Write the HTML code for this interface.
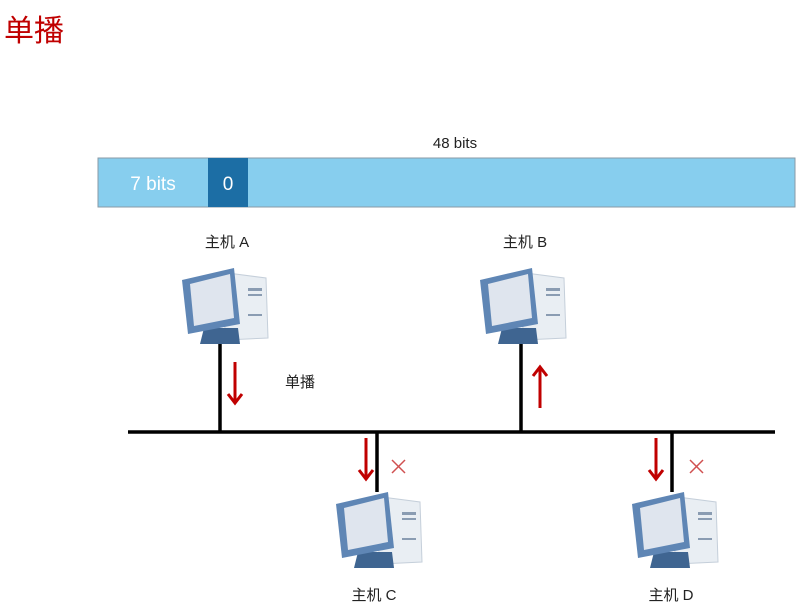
<!DOCTYPE html>
<html><head><meta charset="utf-8"><style>
body{margin:0;background:#fff;width:800px;height:604px;overflow:hidden}
text{font-family:"Liberation Sans","Noto Sans CJK SC",sans-serif}
</style></head><body>
<svg width="800" height="604" xmlns="http://www.w3.org/2000/svg">
<defs>
<g id="pc">
  <polygon points="42,8 88,14 90,74 48,76" fill="#e9eef3" stroke="#c5cfda"/>
  <rect x="70" y="24" width="14" height="3" fill="#8a9cb2"/>
  <rect x="70" y="30" width="14" height="2" fill="#8a9cb2"/>
  <rect x="70" y="50" width="14" height="2" fill="#8a9cb2"/>
  <polygon points="26,64 60,64 62,80 22,80" fill="#3f6591"/>
  <polygon points="4,16 56,4 62,60 10,70" fill="#5f86b5"/>
  <polygon points="12,20 52,10 56,54 16,62" fill="#dfe5ee"/>
</g>
</defs>
<text x="4" y="41" font-size="30" fill="#c00000">单播</text>
<text x="455" y="148" font-size="15" fill="#222" text-anchor="middle">48 bits</text>
<rect x="98" y="158" width="697" height="49" fill="#87ceee" stroke="#8a9aa6"/>
<rect x="208" y="158" width="40" height="49" fill="#1c6ea5"/>
<text x="153" y="190" font-size="19" fill="#fff" text-anchor="middle">7 bits</text>
<text x="228" y="190" font-size="19" fill="#fff" text-anchor="middle">0</text>
<text x="227" y="247" font-size="15" fill="#222" text-anchor="middle">主机 A</text>
<text x="525" y="247" font-size="15" fill="#222" text-anchor="middle">主机 B</text>
<text x="374" y="600" font-size="15" fill="#222" text-anchor="middle">主机 C</text>
<text x="671" y="600" font-size="15" fill="#222" text-anchor="middle">主机 D</text>
<text x="300" y="387" font-size="15" fill="#222" text-anchor="middle">单播</text>
<g stroke="#000" stroke-width="3.5" fill="none">
<line x1="128" y1="432" x2="775" y2="432"/>
<line x1="220" y1="340" x2="220" y2="432"/>
<line x1="521" y1="340" x2="521" y2="432"/>
<line x1="377" y1="432" x2="377" y2="492"/>
<line x1="672" y1="432" x2="672" y2="492"/>
</g>
<use href="#pc" x="178" y="264"/>
<use href="#pc" x="476" y="264"/>
<use href="#pc" x="332" y="488"/>
<use href="#pc" x="628" y="488"/>
<g stroke="#c00000" stroke-width="3" fill="none">
<line x1="235" y1="362" x2="235" y2="402"/><polyline points="228,394 235,403 242,394"/>
<line x1="540" y1="408" x2="540" y2="368"/><polyline points="533,376 540,367 547,376"/>
<line x1="366" y1="438" x2="366" y2="478"/><polyline points="359,470 366,479 373,470"/>
<line x1="656" y1="438" x2="656" y2="478"/><polyline points="649,470 656,479 663,470"/>
</g>
<g stroke="#d05050" stroke-width="1.5">
<line x1="392" y1="460" x2="405" y2="473"/><line x1="405" y1="460" x2="392" y2="473"/>
<line x1="690" y1="460" x2="703" y2="473"/><line x1="703" y1="460" x2="690" y2="473"/>
</g>
</svg>
</body></html>
